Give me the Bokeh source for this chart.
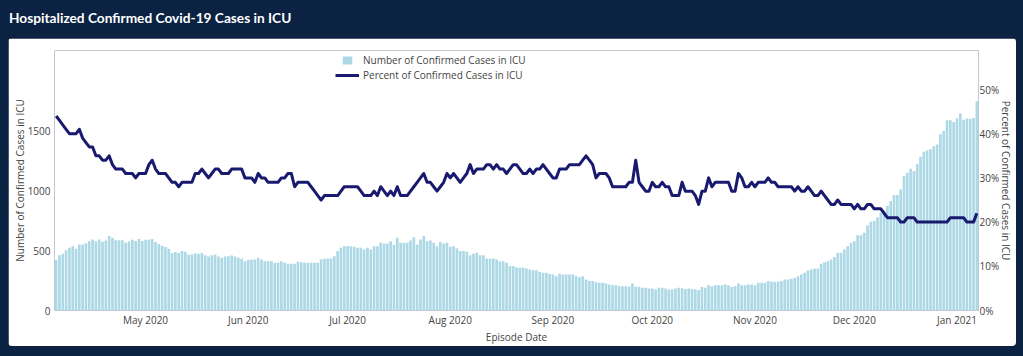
import pandas as pd
from bokeh.plotting import figure
from bokeh.models import (ColumnDataSource, Range1d, LinearAxis, FixedTicker, MonthsTicker,
                          DatetimeTickFormatter, PrintfTickFormatter, Legend, LegendItem, Div,
                          GlobalInlineStyleSheet)
from bokeh.layouts import column
from bokeh.embed import file_html
from bokeh.resources import INLINE

title_text = "Hospitalized Confirmed Covid-19 Cases in ICU"
series_cases = "Number of Confirmed Cases in ICU"
series_pct = "Percent of Confirmed Cases in ICU"
x_title = "Episode Date"
start_date = "2020-04-04"

icu_cases = [
    420, 461, 472, 503, 522, 536, 514, 550, 550, 561,
    578, 592, 578, 592, 572, 583, 620, 606, 586, 586,
    586, 565, 575, 590, 580, 595, 580, 590, 590, 595,
    570, 555, 540, 530, 515, 480, 488, 480, 495, 490,
    467, 467, 475, 472, 480, 461, 450, 461, 467, 450,
    439, 450, 453, 459, 450, 439, 431, 411, 420, 425,
    425, 439, 425, 411, 411, 411, 397, 397, 411, 397,
    389, 389, 389, 406, 403, 397, 397, 397, 397, 397,
    425, 431, 434, 434, 453, 495, 522, 536, 536, 536,
    531, 522, 522, 508, 522, 508, 536, 536, 564, 558,
    558, 578, 545, 606, 564, 564, 564, 583, 611, 550,
    592, 620, 578, 583, 564, 536, 570, 558, 564, 531,
    536, 517, 495, 495, 489, 461, 472, 481, 461, 461,
    434, 431, 434, 425, 411, 411, 397, 370, 370, 361,
    356, 356, 350, 342, 336, 336, 322, 314, 314, 306,
    300, 286, 306, 300, 300, 300, 300, 286, 278, 286,
    258, 245, 245, 236, 231, 231, 225, 217, 211, 211,
    203, 203, 203, 197, 225, 197, 197, 189, 189, 183,
    183, 175, 189, 189, 183, 175, 175, 183, 189, 185,
    180, 183, 180, 175, 170, 195, 189, 211, 203, 211,
    211, 211, 217, 211, 195, 203, 225, 211, 211, 217,
    217, 211, 231, 231, 231, 245, 239, 239, 239, 245,
    258, 258, 264, 272, 286, 300, 314, 334, 342, 350,
    350, 389, 403, 411, 425, 445, 481, 481, 509, 536,
    564, 578, 628, 628, 648, 709, 740, 745, 778, 814,
    834, 870, 912, 962, 962, 1009, 1120, 1148, 1181, 1162,
    1218, 1281, 1323, 1334, 1343, 1368, 1384, 1468, 1496, 1585,
    1585, 1571, 1601, 1643, 1590, 1601, 1598, 1605, 1745,
]

icu_percent = [
    44, 43, 42, 41, 40, 40, 40, 41, 39, 38,
    37, 37, 35, 35, 34, 34, 35, 33, 32, 32,
    32, 31, 31, 31, 30, 31, 31, 31, 33, 34,
    32, 31, 31, 31, 30, 29, 29, 28, 29, 29,
    29, 29, 31, 31, 32, 31, 30, 31, 32, 32,
    31, 31, 31, 32, 32, 32, 32, 30, 30, 30,
    29, 31, 30, 30, 29, 29, 29, 29, 30, 30,
    31, 31, 28, 29, 29, 29, 29, 28, 27, 26,
    25, 26, 26, 26, 26, 26, 27, 28, 28, 28,
    28, 28, 27, 26, 26, 26, 27, 26, 28, 27,
    26, 27, 26, 28, 26, 26, 26, 27, 28, 29,
    30, 31, 29, 29, 28, 27, 28, 29, 31, 30,
    31, 30, 29, 30, 31, 33, 31, 32, 32, 32,
    33, 33, 32, 33, 32, 32, 31, 32, 33, 33,
    32, 31, 31, 32, 31, 32, 32, 33, 32, 31,
    30, 30, 32, 32, 32, 33, 33, 33, 33, 34,
    35, 34, 33, 30, 31, 31, 31, 30, 28, 28,
    28, 28, 28, 29, 29, 34, 29, 28, 27, 27,
    29, 28, 28, 29, 28, 28, 26, 26, 26, 29,
    27, 27, 27, 26, 24, 27, 27, 30, 28, 29,
    29, 29, 29, 29, 27, 27, 31, 30, 28, 28,
    29, 28, 29, 29, 29, 30, 29, 29, 28, 28,
    28, 28, 28, 27, 28, 27, 27, 28, 27, 26,
    26, 27, 26, 25, 24, 24, 25, 24, 24, 24,
    24, 23, 24, 23, 23, 24, 24, 23, 23, 23,
    22, 21, 21, 21, 21, 20, 20, 21, 21, 21,
    20, 20, 20, 20, 20, 20, 20, 20, 20, 20,
    21, 21, 21, 21, 21, 20, 20, 20, 22,
]

left_ticks = [0, 500, 1000, 1500]
right_ticks = [0, 10, 20, 30, 40, 50]

BG = "#0b2242"
BAR = "#add8e6"
LINE = "#191970"
TXT = "#444444"
FONT = "Open Sans"
FS = "10px"

dates = pd.date_range(start_date, periods=len(icu_cases), freq="D")
src = ColumnDataSource(dict(date=dates, cases=icu_cases, pct=icu_percent))

# frame extends 39px above the 50% line so that the legend sits inside it
ext = 260 / 221
half_day = pd.Timedelta(hours=12)
p = figure(width=1008, height=308, x_axis_type="datetime", output_backend="svg",
           toolbar_location=None,
           x_range=Range1d(dates[0] - half_day, dates[-1] + half_day),
           y_range=Range1d(0, 1842 * ext),
           min_border_left=46, min_border_right=38, min_border_top=12, min_border_bottom=36,
           border_fill_color="white", background_fill_color="white")
p.outline_line_color = "white"
p.outline_line_width = 0
p.extra_y_ranges = {"pct": Range1d(0, 50 * ext)}
p.grid.visible = False
p.styles = {"border-radius": "4px", "overflow": "hidden"}

bars = p.vbar(x="date", top="cases", width=0.8 * 86400000, source=src,
              fill_color=BAR, line_color=None)
line = p.line(x="date", y="pct", y_range_name="pct", source=src,
              line_color=LINE, line_width=3, line_join="round")

right = LinearAxis(y_range_name="pct", axis_label=series_pct)
p.add_layout(right, "right")

p.xaxis.ticker = MonthsTicker(months=list(range(12)))
p.xaxis.formatter = DatetimeTickFormatter(days="%b %Y", months="%b %Y", years="%b %Y")
p.xaxis.axis_label = x_title
p.yaxis[0].ticker = FixedTicker(ticks=left_ticks)
p.yaxis[0].axis_label = series_cases
right.ticker = FixedTicker(ticks=right_ticks)
right.formatter = PrintfTickFormatter(format="%d%%")

for ax in list(p.xaxis) + list(p.yaxis):
    ax.axis_line_color = None
    ax.major_tick_line_color = None
    ax.minor_tick_line_color = None
    ax.major_tick_in = 0
    ax.major_tick_out = 0
    ax.minor_tick_in = 0
    ax.minor_tick_out = 0
    ax.major_label_text_font = FONT
    ax.major_label_text_font_size = FS
    ax.major_label_text_color = TXT
    ax.axis_label_text_font = FONT
    ax.axis_label_text_font_size = FS
    ax.axis_label_text_font_style = "normal"
    ax.axis_label_text_color = TXT

p.yaxis[0].major_label_standoff = 4
p.yaxis[0].axis_label_standoff = -2
right.major_label_standoff = 1
right.axis_label_standoff = -3
p.xaxis[0].major_label_standoff = 2
p.xaxis[0].axis_label_standoff = 0

leg1 = Legend(items=[LegendItem(label=series_cases, renderers=[bars])],
              location=(287, 243), glyph_width=12, glyph_height=10, label_height=14,
              label_standoff=10, padding=0, margin=0, spacing=0,
              border_line_color=None, background_fill_alpha=0,
              label_text_font=FONT, label_text_font_size=FS, label_text_color=TXT)
leg2 = Legend(items=[LegendItem(label=series_pct, renderers=[line])],
              location=(281, 228), glyph_width=24, glyph_height=14, label_height=14,
              label_standoff=4, padding=0, margin=0, spacing=0,
              border_line_color=None, background_fill_alpha=0,
              label_text_font=FONT, label_text_font_size=FS, label_text_color=TXT)
p.add_layout(leg1)
p.add_layout(leg2)

title = Div(text=title_text, width=1008, height=30, margin=(0, 0, 0, 0),
            styles={"color": "white", "font-family": "Lato", "font-weight": "bold",
                    "font-size": "13.7px", "padding-left": "1px",
                    "background-color": BG})

layout = column(title, p, spacing=0, margin=(8, 0, 0, 8), styles={"background-color": BG})
layout.stylesheets = [GlobalInlineStyleSheet(css="html, body { background-color: %s; margin: 0; }" % BG)]

open("out.html", "w").write(file_html(layout, INLINE))
